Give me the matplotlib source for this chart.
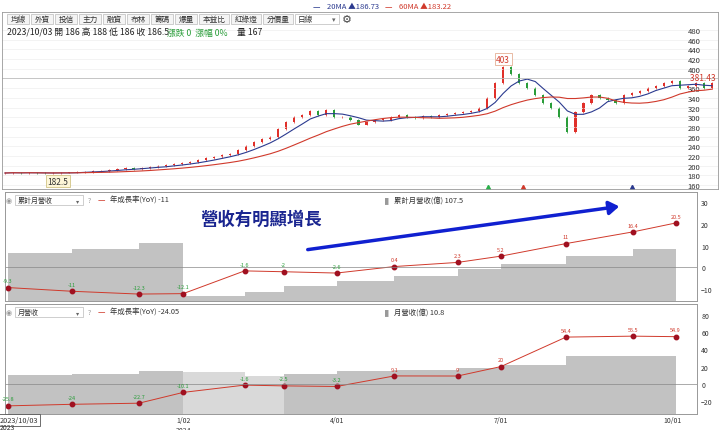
import matplotlib
matplotlib.use("Agg")
import matplotlib.pyplot as plt
import matplotlib.dates as mdates
import numpy as np
import pandas as pd
from matplotlib.patches import FancyArrowPatch, Rectangle

plt.rcParams['font.family'] = ['Noto Sans CJK TC', 'DejaVu Sans']

# ---- data ----
closes = [185,186,185,186,185,184,185,186,186,187,188,189,190,
          191,193,195,194,196,198,200,201,203,205,
          208,212,215,218,222,225,
          232,240,248,255,260,
          275,290,300,305,
          312,305,315,300,
          300,295,285,290,295,
          295,300,305,300,298,302,
          300,304,306,308,310,312,
          320,340,370,
          403,390,
          370,360,345,
          330,320,300,270,310,330,
          345,340,335,330,
          345,350,355,360,
          365,370,375,360,365,370,360,370]
rev_dates = ["2023-10-03","2023-11-05","2023-12-10","2024-01-02","2024-02-07","2024-03-01",
             "2024-04-01","2024-05-03","2024-06-07","2024-07-01","2024-08-05","2024-09-10","2024-10-03"]
cum_yoy = [-9.3,-11,-12.3,-12.1,-1.6,-2,-2.6,0.4,2.3,5.2,11,16.4,20.5]
cum_rev = [99,109,120,11,19,31,41,52,66,77,93,107.5]
mon_yoy = [-25.8,-24,-22.7,-10.1,-1.6,-2.5,-3.2,9.1,9,20,54.4,55.5,54.9]
mon_rev = [10.1,10.6,11.2,11.0,9.9,10.6,11.3,11.4,12.1,12.8,15.1,15.1]
price_ticks = [160,180,200,220,240,260,280,300,320,340,360,400,420,440,460,480]

W, H = 720, 431
fig = plt.figure(figsize=(W/100, H/100), dpi=100)
def fx(x): return x / W
def fy(y): return 1 - y / H
def axpos(x0, y0, x1, y1): return [fx(x0), fy(y1), fx(x1 - x0), (y1 - y0) / H]

# trading-day axis: piecewise mapping of dates to horizontal position
anchor_d = mdates.date2num(pd.to_datetime(["2023-10-03", "2024-01-02", "2024-04-01",
                                           "2024-07-01", "2024-10-01", "2024-11-01"]))
anchor_x = [5, 181, 335, 500, 672, 728]
def X(dates):
    return np.interp(mdates.date2num(pd.to_datetime(dates)), anchor_d, anchor_x)

# ---- top price panel ----
ax = fig.add_axes(axpos(2, 13, 718, 190))
ax.set_xlim(2, 718)
ax.set_ylim(152, 517)
xn = np.linspace(5, 712, len(closes))
opens = [closes[0]] + closes[:-1]
for x, o, c in zip(xn, opens, closes):
    col = '#e0302a' if c >= o else '#2a9d3a'
    hi, lo = max(o, c) + 2, min(o, c) - 2
    ax.vlines(x, lo, hi, color=col, lw=0.5)
    ax.add_patch(Rectangle((x - 1.1, min(o, c)), 2.2, max(abs(c - o), 0.8), color=col, lw=0))
s = pd.Series(closes)
ax.plot(xn, s.rolling(5, min_periods=1).mean(), color='#2b3a8f', lw=0.8)
ax.plot(xn, s.rolling(14, min_periods=1).mean(), color='#d0392b', lw=0.8)
ax.yaxis.tick_right()
ax.set_yticks(price_ticks)
ax.tick_params(axis='y', direction='in', pad=-22, labelsize=5.5, length=0, colors='#333')
ax.set_xticks([])
ax.grid(axis='y', color='#eeeeee', lw=0.5)
ax.axhline(381.43, color='#bbbbbb', lw=0.6)
ax.text(1.0, 381.43, '381.43 ', transform=ax.get_yaxis_transform(), ha='right', va='center',
        fontsize=6, color='#d0392b')
ip = int(np.argmax(closes))
ax.text(xn[ip], 420, '403', ha='center', va='center', fontsize=6, color='#d0392b',
        bbox=dict(boxstyle='square,pad=0.2', fc='white', ec='#e0a080', lw=0.5))
ax.text(58, 168, '182.5', ha='center', va='center', fontsize=6, color='#333',
        bbox=dict(boxstyle='square,pad=0.2', fc='#fdf6d8', ec='#c8b870', lw=0.5))
for xp, col in [(488, '#2ab04a'), (523, '#d0392b'), (632, '#2b3a8f')]:
    ax.plot(xp, 157, marker='^', color=col, ms=3)
for sp in ax.spines.values():
    sp.set_color('#999'); sp.set_linewidth(0.6)

# toolbar
labels = ['均線', '外資', '投信', '主力', '融資', '布林', '籌碼', '爆量', '本益比', '紅綠燈', '分價量']
x = 7
for lb in labels:
    w = 8 * len(lb) + 6
    fig.patches.append(Rectangle((fx(x), fy(25)), fx(w), 10 / H, transform=fig.transFigure,
                                 fc='#f4f4f4', ec='#aaa', lw=0.4))
    fig.text(fx(x + w / 2), fy(20), lb, ha='center', va='center', fontsize=5.5, color='#333')
    x += w + 2
fig.patches.append(Rectangle((fx(x), fy(25)), fx(44), 10 / H, transform=fig.transFigure,
                             fc='white', ec='#aaa', lw=0.4))
fig.text(fx(x + 3), fy(20), '日線', ha='left', va='center', fontsize=5.5, color='#333')
fig.text(fx(x + 40), fy(20), '▾', ha='right', va='center', fontsize=5, color='#666')
fig.text(fx(x + 52), fy(20), '⚙', ha='center', va='center', fontsize=8, color='#444', family=['DejaVu Sans'])
fig.text(fx(7), fy(33), '2023/10/03 開 186 高 188 低 186 收 186.5', fontsize=6.3, va='center', color='#222')
fig.text(fx(167), fy(33), '漲跌 0  漲幅 0%', fontsize=6.3, va='center', color='#2a9d3a')
fig.text(fx(237), fy(33), '量 167', fontsize=6.3, va='center', color='#222')
fig.text(fx(313), fy(7), '— ', fontsize=6, va='center', color='#2b3a8f')
fig.text(fx(327), fy(7), '20MA ▲186.73', fontsize=5.5, va='center', color='#2b3a8f')
fig.text(fx(385), fy(7), '— ', fontsize=6, va='center', color='#d0392b')
fig.text(fx(399), fy(7), '60MA ▲183.22', fontsize=5.5, va='center', color='#d0392b')

# ---- revenue panels ----
rd = X(rev_dates)

def rev_panel(pos, yoy, rev, ylim, rlim, yt, light, combo, leg1, leg2):
    a = fig.add_axes(pos)
    a.set_xlim(2, 697)
    b = a.twinx()
    a.set_zorder(b.get_zorder() + 1); a.patch.set_visible(False)
    for i, v in enumerate(rev):
        b.bar(rd[i], v, width=rd[i + 1] - rd[i], align='edge',
              color='#d9d9d9' if i in light else '#c2c2c2', lw=0)
    b.set_ylim(*rlim); b.set_yticks([])
    a.plot(rd, yoy, color='#d0392b', lw=0.7)
    a.plot(rd, yoy, 'o', color='#a01020', ms=3.2)
    off = (ylim[1] - ylim[0]) * 0.04
    for xv, yv in zip(rd, yoy):
        a.text(xv, yv + off, f'{yv:g}', ha='center', va='bottom', fontsize=4,
               color='#2a9d3a' if yv < 0 else '#d0392b')
    a.axhline(0, color='#888', lw=0.5)
    a.set_ylim(*ylim)
    a.yaxis.tick_right(); a.set_yticks(yt)
    a.tick_params(axis='y', labelsize=5, length=0, colors='#333', pad=3)
    for sp in list(a.spines.values()) + list(b.spines.values()):
        sp.set_color('#999'); sp.set_linewidth(0.6)
    top = H - (pos[1] + pos[3]) * H
    fig.text(fx(6), fy(top + 8), '◉', fontsize=5, va='center', color='#999', family=['DejaVu Sans'])
    fig.patches.append(Rectangle((fx(15), fy(top + 13)), fx(68), 10 / H, transform=fig.transFigure,
                                 fc='white', ec='#aaa', lw=0.4))
    fig.text(fx(18), fy(top + 8), combo, fontsize=5, va='center', color='#333')
    fig.text(fx(79), fy(top + 8), '▾', fontsize=4.5, ha='right', va='center', color='#666')
    fig.text(fx(88), fy(top + 8), '?', fontsize=5, va='center', color='#999')
    fig.text(fx(98), fy(top + 8), '—', fontsize=6, va='center', color='#d0392b')
    fig.text(fx(110), fy(top + 8), leg1, fontsize=5.3, va='center', color='#333')
    fig.text(fx(385), fy(top + 8), '▌', fontsize=5, va='center', color='#999')
    fig.text(fx(394), fy(top + 8), leg2, fontsize=5.3, va='center', color='#333')
    return a

a2 = rev_panel(axpos(5, 193, 697, 302), cum_yoy, cum_rev, (-15.5, 34.8), (0, 227),
               [-10, 0, 10, 20, 30], [], '累計月營收', '年成長率(YoY) -11', '累計月營收(億) 107.5')
a2.set_xticks([])
a3 = rev_panel(axpos(5, 305, 697, 415), mon_yoy, mon_rev, (-35.3, 93), (0, 28.8),
               [-20, 0, 20, 40, 60, 80], [3, 4], '月營收', '年成長率(YoY) -24.05', '月營收(億) 10.8')
a3.set_xticks(X(["2024-01-02", "2024-04-01", "2024-07-01", "2024-10-01"]))
a3.set_xticklabels(['1/02\n2024', '4/01', '7/01', '10/01'], fontsize=5, color='#333', linespacing=1.3)
a3.tick_params(axis='x', length=0, pad=1.5)
fig.text(fx(0), fy(421), '2023/10/03', fontsize=5.3, va='center', color='#333',
         bbox=dict(boxstyle='square,pad=0.25', fc='white', ec='#555', lw=0.6))
fig.text(fx(0), fy(428), '2023', fontsize=5, va='center', color='#333')

# annotation
fig.text(fx(200), fy(220), '營收有明顯增長', fontsize=12.5, fontweight='bold', va='center', color='#1a2590')
fig.patches.append(FancyArrowPatch((fx(305), fy(251)), (fx(622), fy(207)), transform=fig.transFigure,
                                   arrowstyle='-|>,head_length=6,head_width=4', color='#1020d0', lw=2.5))

fig.savefig('out.png', dpi=100)
